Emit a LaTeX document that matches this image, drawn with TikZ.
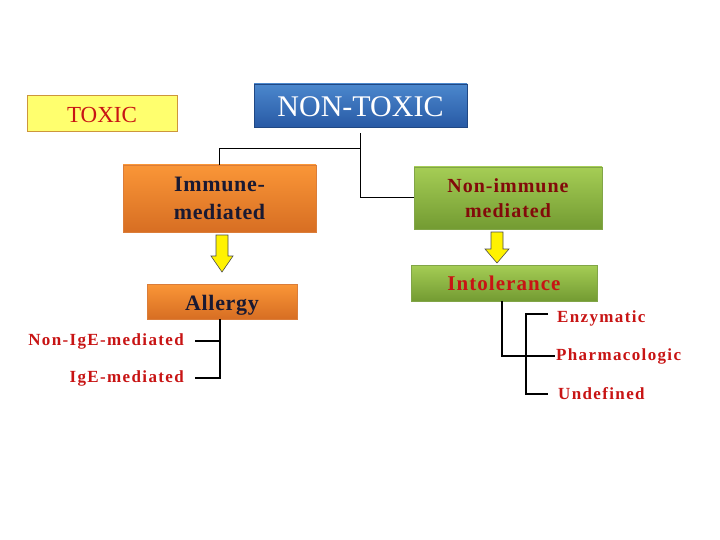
\documentclass[tikz,border=0pt]{standalone}
\usepackage{fontspec}
\setmainfont{Liberation Serif}
\usetikzlibrary{calc}
\definecolor{txred}{RGB}{200,20,20}
\definecolor{ylfill}{RGB}{255,255,110}
\definecolor{ylborder}{RGB}{205,150,60}
\definecolor{bltop}{RGB}{75,135,205}
\definecolor{blbot}{RGB}{40,90,165}
\definecolor{ortop}{RGB}{250,150,55}
\definecolor{orbot}{RGB}{215,110,35}
\definecolor{grtop}{RGB}{165,205,85}
\definecolor{grbot}{RGB}{115,155,50}
\definecolor{navy}{RGB}{25,25,50}
\definecolor{darkred}{RGB}{130,10,10}
\tikzset{
  x=1pt, y=-1pt,
  toxicbox/.style={draw=ylborder, line width=1pt, fill=ylfill, minimum width=150pt, minimum height=36pt, inner sep=0pt},
  bluebox/.style={top color=bltop, bottom color=blbot, draw=blbot!80!black, line width=0.4pt, minimum width=213pt, minimum height=43pt, inner sep=0pt, text=white},
  orbox/.style={top color=ortop, bottom color=orbot, draw=orbot!90!white, line width=0.3pt, inner sep=0pt},
  grbox/.style={top color=grtop, bottom color=grbot, draw=grbot!90!white, line width=0.3pt, inner sep=0pt},
  thinline/.style={draw=black, line width=1pt},
  thickline/.style={draw=black, line width=2.6pt},
  leaf/.style={text=txred, font=\fontsize{17}{19}\selectfont\bfseries\addfontfeatures{LetterSpace=8}, inner sep=0pt},
  blockarrow/.style={fill=yellow, draw=black!70, line width=0.6pt},
}
\begin{document}
\begin{tikzpicture}
\useasboundingbox (0,0) rectangle (720,540);
\fill[white] (0,0) rectangle (720,540);

% top level
\node[toxicbox, text=txred, font=\fontsize{23}{26}\selectfont, text height=18pt, text depth=0pt] (tx) at (102,114) {TOXIC};
\node[bluebox, font=\fontsize{30}{33}\selectfont, text height=23pt, text depth=0pt] (nt) at (360.5,105.5) {NON-TOXIC};

% second level
\node[orbox, minimum width=193pt, minimum height=67pt, text=navy, align=center,
      font=\fontsize{22}{28}\selectfont\bfseries\addfontfeatures{LetterSpace=3}] (im) at (219.5,198.5) {Immune-\\mediated};
\node[grbox, minimum width=188pt, minimum height=62pt, text=darkred, align=center,
      font=\fontsize{20}{25}\selectfont\bfseries\addfontfeatures{LetterSpace=5}] (ni) at (508,198) {Non-immune\\mediated};

% third level
\node[orbox, minimum width=150pt, minimum height=35pt, text=navy, text height=17pt, text depth=0pt,
      font=\fontsize{22}{25}\selectfont\bfseries\addfontfeatures{LetterSpace=3}] (al) at (222,301.5) {Allergy};
\node[grbox, minimum width=186pt, minimum height=36pt, text=txred,
      font=\fontsize{21}{24}\selectfont\bfseries\addfontfeatures{LetterSpace=5}] (in) at (504,283) {Intolerance};

% leaves
\node[leaf, anchor=east] (nig) at (184,341) {Non-IgE-mediated};
\node[leaf, anchor=east] (ig) at (184,378) {IgE-mediated};
\node[leaf, anchor=west] (enz) at (557,318) {Enzymatic};
\node[leaf, anchor=west] (ph) at (556,356) {Pharmacologic};
\node[leaf, anchor=west] (und) at (558,394) {Undefined};

% connectors from NON-TOXIC
\coordinate (ntb) at ([yshift=-6pt]nt.south);
\draw[thinline] (ntb) -- ($(ntb)+(0,15)$) -| (im.north);
\draw[thinline] (ntb) |- (ni.west);

% yellow block arrows
\draw[blockarrow] (216,235) -- (228,235) -- (228,256) -- (233,256) -- (222,272) -- (211,256) -- (216,256) -- cycle;
\draw[blockarrow] (491,232) -- (503,232) -- (503,249) -- (509,249) -- (497,263) -- (485,249) -- (491,249) -- cycle;

% allergy branches
\coordinate (alj) at ([xshift=-2pt]al.south);
\draw[thickline] (alj) |- ([xshift=11pt]ig.east);
\draw[thickline] ([xshift=11pt]nig.east) -- (alj |- nig.east);

% intolerance branches
\coordinate (inj) at ([xshift=-2pt]in.south);
\draw[thickline] (inj) |- ([xshift=-1pt]ph.west);
\coordinate (tj) at (526,314);
\draw[thickline] ([xshift=-9pt]enz.west |- tj) -- (tj) -- (tj |- und.west) -- ([xshift=-10pt]und.west);
\end{tikzpicture}
\end{document}
